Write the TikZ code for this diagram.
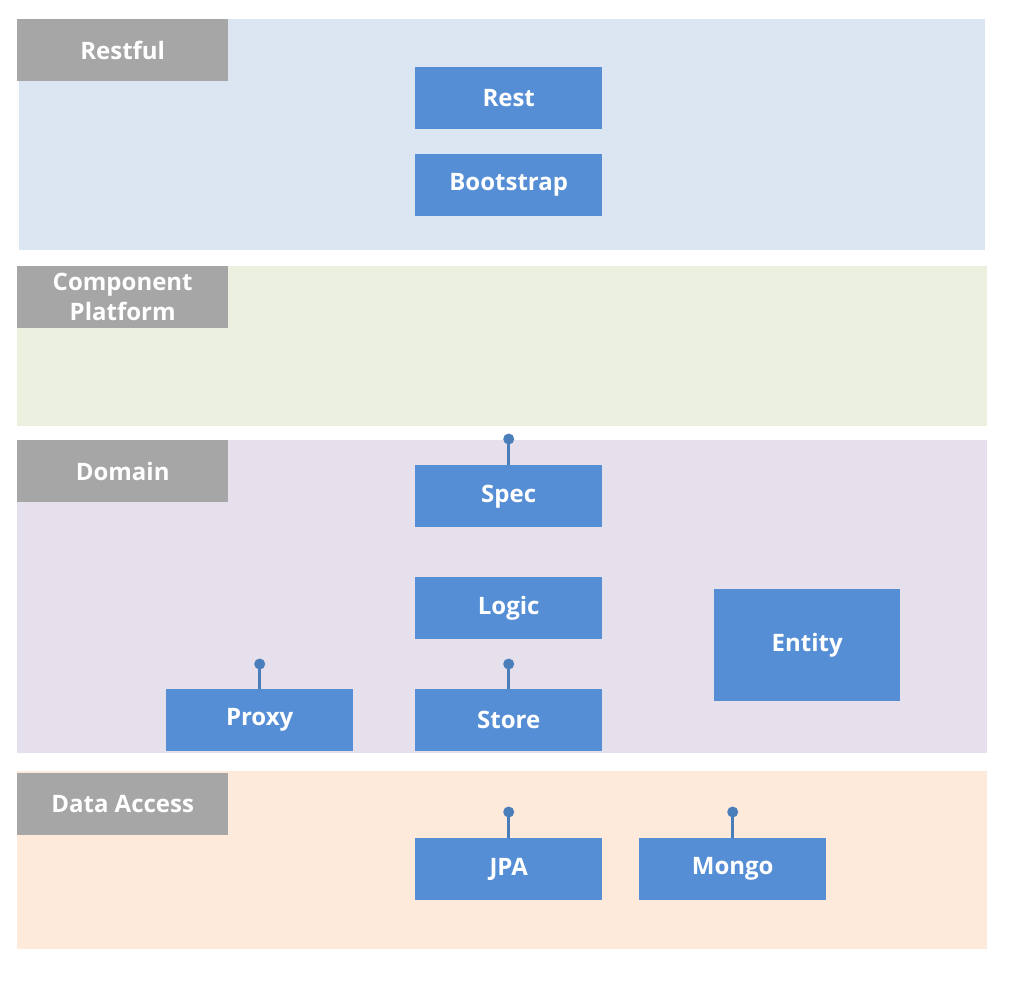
\documentclass[tikz,border=0pt]{standalone}
\usepackage{fontspec}
\setmainfont{Open Sans}[BoldFont={* Bold}]
\usetikzlibrary{positioning}

\definecolor{restbg}{HTML}{DCE6F2}
\definecolor{compbg}{HTML}{EBF1DE}
\definecolor{domainbg}{HTML}{E6E0EC}
\definecolor{databg}{HTML}{FDEADA}
\definecolor{tagfill}{HTML}{A6A6A6}
\definecolor{boxfill}{HTML}{558ED5}
\definecolor{pinblue}{HTML}{4A7EBB}

\begin{document}
\begin{tikzpicture}[x=1pt, y=-1pt]
\tikzstyle{tag} = [anchor=north west, fill=tagfill, text=white, inner sep=0pt,
  minimum width=211pt, minimum height=62pt, align=center,
  font=\bfseries\fontsize{24}{30}\selectfont]
\tikzstyle{comp} = [anchor=north west, fill=boxfill, text=white, inner sep=0pt,
  minimum width=187pt, minimum height=62pt,
  font=\bfseries\fontsize{24}{28}\selectfont]
\tikzstyle{pin} = [draw=pinblue, line width=2.5pt]

\useasboundingbox (0,0) rectangle (1012,980);

% layers
\fill[restbg]   (19,19)  rectangle (985,250);
\fill[compbg]   (17,266) rectangle (987,426);
\fill[domainbg] (17,440) rectangle (987,753);
\fill[databg]   (17,771) rectangle (987,949);

\node[tag] (restful) at (17,19)  {Restful};
\node[tag] (platform) at (17,266) {Component\\Platform};
\node[tag] (domain) at (17,440) {Domain};
\node[tag] (access) at (17,773) {Data Access};

% components
\node[comp] (rest)      at (415,67)  {Rest};
\node[comp] (bootstrap) at (415,154) {Bootstrap};
\node[comp] (spec)      at (415,465) {Spec};
\node[comp] (logic)     at (415,577) {Logic};
\node[comp] (store)     at (415,689) {Store};
\node[comp] (proxy)     at (166,689) {Proxy};
\node[comp, minimum width=186pt, minimum height=112pt] (entity) at (714,589) {Entity};
\node[comp] (jpa)       at (415,838) {JPA};
\node[comp] (mongo)     at (639,838) {Mongo};

% interfaces
\coordinate[above=26pt of spec.north]  (specpin);
\coordinate[above=25pt of store.north] (storepin);
\coordinate[above=25pt of proxy.north] (proxypin);
\coordinate[above=26pt of jpa.north]   (jpapin);
\coordinate[above=26pt of mongo.north] (mongopin);
\foreach \c/\p in {spec/specpin, store/storepin, proxy/proxypin, jpa/jpapin, mongo/mongopin} {
  \draw[pin] (\c.north) -- (\p);
  \fill[pinblue] (\p) circle (5.5pt);
}
\end{tikzpicture}
\end{document}
